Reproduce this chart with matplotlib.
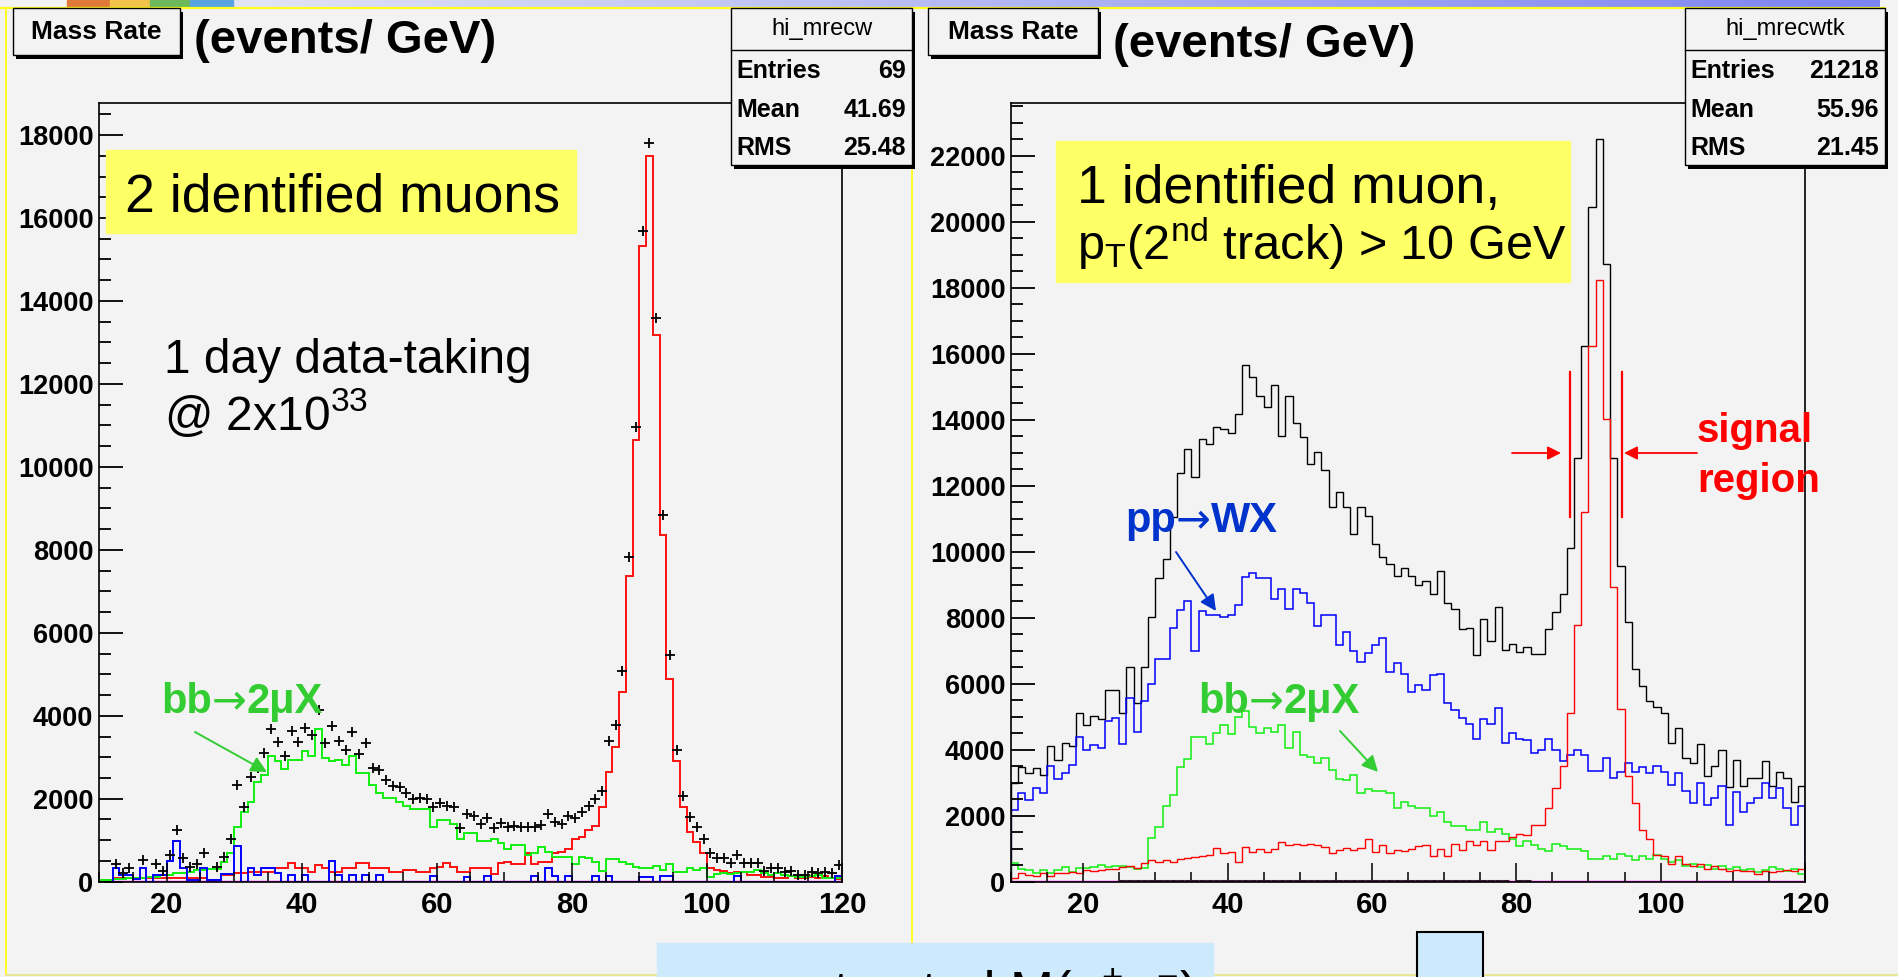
import numpy as np
import matplotlib
matplotlib.use("Agg")
import matplotlib.pyplot as plt
from matplotlib.patches import Rectangle, FancyArrowPatch
from matplotlib.colors import LinearSegmentedColormap
from matplotlib.ticker import MultipleLocator

W, H = 1899, 977
BG = "#f3f3f3"
SANS = ["Liberation Sans", "DejaVu Sans"]

plt.rcParams["font.family"] = SANS
plt.rcParams["mathtext.fontset"] = "custom"
plt.rcParams["mathtext.rm"] = "Liberation Sans"
plt.rcParams["mathtext.it"] = "Liberation Sans:italic"
plt.rcParams["mathtext.bf"] = "Liberation Sans:bold"

# ---- histogram contents, 1 GeV bins from 10 to 120 GeV ----
# left: 2 identified muons (hi_mrecw)
data_l = [None, None, 427, 200, 320, None, 523, None, 427, 258,      # 10-19
          644, 1240, 564, 362, 427, 700, None, 362, 604, 1030,       # 20-29
          2334, 1811, 2536, 2737, 3100, 3679, 3357, 3035, 3622, 3357,
          3695, 3542, 4130, 3341, 3743, 3397, 3180, 3598, 3075, 3341,
          2737, 2697, 2455, 2310, 2294, 2133, 1988, 2013, 1988, 1811,
          1892, 1835, 1811, 1288, 1640, 1590, 1393, 1546, 1288, 1425,
          1312, 1344, 1328, 1328, 1328, 1368, 1634, 1433, 1393, 1586,
          1530, 1690, 1835, 1988, 2198, 3381, 3784, 5088, 7835, 10966,
          15676, 17819, 13584, 8833, 5475, 3180, 2077, 1570, 1312, 1030,
          700, 564, 564, 443, 644, 459, 443, 443, 258, 322,
          322, 241, 258, 161, 161, 225, 201, 225, 201, 402]            # 110-119

zmumu_l = [40, 40, 80, 80, 80, 100, 100, 100, 80, 80,
           80, 80, 100, 100, 100, 100, 40, 40, 160, 160,
           200, 200, 240, 240, 240, 240, 322, 322, 443, 322,
           322, 240, 400, 322, 240, 240, 322, 322, 443, 443,
           340, 340, 340, 240, 240, 280, 280, 240, 240, 322,
           360, 443, 360, 240, 225, 322, 322, 322, 177, 443,
           483, 427, 427, 684, 427, 483, 483, 684, 724, 780,
           1030, 1087, 1248, 1344, 1811, 2640, 3240, 4580, 7370, 10645,
           15314, 17488, 13181, 8350, 4886, 2898, 1795, 1191, 966, 684,
           322, 280, 258, 200, 225, 225, 160, 160, 120, 120,
           100, 100, 140, 80, 100, 120, 100, 140, 80, 60]

bb_l = [40, 40, 60, 60, 80, 100, 100, 120, 120, 160,
        160, 200, 200, 240, 280, 280, 300, 300, 483, 684,
        1310, 1690, 1930, 2415, 2576, 3035, 2898, 2713, 2938, 2938,
        3140, 3019, 3679, 2979, 2898, 2938, 2817, 3035, 2616, 2616,
        2334, 2133, 2028, 2028, 1932, 1827, 1747, 1747, 1747, 1330,
        1490, 1490, 1393, 1030, 1183, 1183, 982, 982, 1030, 926,
        781, 885, 885, 644, 684, 845, 724, 588, 588, 588,
        427, 604, 564, 483, 258, 539, 539, 483, 419, 362,
        322, 322, 386, 282, 419, 225, 225, 322, 282, 338,
        121, 177, 201, 177, 201, 225, 225, 282, 201, 161,
        201, 161, 137, 105, 105, 137, 161, 97, 81, 80]

wx_l = [0, 0, 338, 161, 161, 60, 338, 0, 161, 161,
        500, 990, 322, 40, 40, 338, 40, 40, 177, 177,
        860, 0, 338, 161, 322, 322, 201, 0, 161, 0,
        161, 0, 0, 0, 500, 161, 0, 161, 0, 161,
        0, 161, 0, 0, 0, 0, 0, 0, 0, 140,
        0, 0, 0, 0, 120, 0, 0, 140, 0, 0,
        0, 0, 0, 0, 140, 0, 338, 140, 0, 140,
        0, 0, 0, 140, 0, 140, 0, 0, 0, 0,
        120, 120, 0, 140, 140, 0, 0, 0, 0, 0,
        0, 0, 0, 0, 140, 0, 0, 0, 0, 0,
        0, 0, 0, 0, 0, 0, 0, 0, 0, 140]

# right: 1 identified muon + track (hi_mrecwtk)
total_r = [3000, 3485, 3303, 3434, 3232, 4111, 3687, 4192, 4111, 5121,
           4747, 5020, 4919, 5808, 5808, 5121, 6494, 5424, 6494, 8009,
           9191, 9767, 11039, 12393, 13100, 12251, 13403, 13261, 13766, 13706,
           13605, 14171, 15660, 15300, 14720, 14390, 15050, 13500, 14720, 13890,
           13480, 12660, 13030, 12470, 11340, 11820, 11340, 10530, 11360, 11080,
           10230, 9850, 9620, 9260, 9500, 9248, 8989, 9095, 8713, 9401,
           8438, 8255, 7644, 7675, 6880, 7950, 7293, 8332, 7033, 7216,
           6956, 7109, 6911, 6911, 7644, 8179, 8713, 10120, 12839, 16231,
           20449, 22496, 18722, 12839, 9554, 7873, 6452, 5933, 5474, 5306,
           5123, 4206, 4664, 3747, 3595, 4160, 3213, 3518, 3977, 2876,
           3702, 2907, 3137, 3137, 3671, 2907, 3335, 3137, 2418, 2907]

wx_r = [2172, 2677, 2475, 2828, 2677, 3505, 3101, 3303, 3535, 4373,
        3990, 4141, 4040, 4878, 4949, 4171, 5555, 4545, 5484, 5989,
        6737, 6737, 7676, 8232, 8514, 7000, 8211, 8080, 8080, 8009,
        8080, 8383, 9242, 9343, 9191, 9191, 8555, 8858, 8252, 8858,
        8737, 8454, 7747, 8080, 8080, 7171, 7575, 7000, 6666, 6919,
        7171, 7373, 6363, 6636, 6300, 5734, 5963, 5810, 6269, 6299,
        5428, 5200, 4970, 4772, 4313, 4924, 4772, 5276, 4206, 4512,
        4313, 4282, 3900, 3977, 4313, 3977, 3671, 3824, 3977, 3824,
        3366, 3366, 3748, 3137, 3335, 3595, 3335, 3488, 3290, 3518,
        3335, 2938, 3290, 2754, 2373, 2984, 2327, 2525, 2907, 1715,
        2724, 2113, 2373, 2525, 2984, 2525, 2831, 2220, 1715, 2296]

bb_r = [556, 374, 354, 273, 354, 253, 354, 434, 303, 404,
        404, 455, 505, 455, 480, 475, 434, 374, 400, 1313,
        1667, 2293, 2626, 3464, 3707, 4373, 4373, 4171, 4495, 4747,
        4474, 5000, 5181, 4697, 4495, 4646, 4545, 4747, 4040, 4545,
        3838, 3767, 3606, 3737, 3384, 3101, 3080, 3232, 2677, 2798,
        2757, 2757, 2677, 2222, 2424, 2300, 2219, 2219, 1990, 2112,
        1807, 1685, 1685, 1563, 1563, 1807, 1501, 1608, 1455, 1303,
        1074, 1226, 1104, 997, 921, 1150, 1074, 997, 997, 921,
        691, 691, 768, 691, 844, 768, 646, 768, 691, 799,
        691, 585, 646, 462, 539, 432, 493, 386, 462, 386,
        432, 340, 386, 280, 340, 432, 386, 310, 386, 233]

zmumu_r = [101, 273, 202, 172, 253, 172, 273, 253, 303, 273,
           354, 333, 354, 374, 374, 434, 475, 404, 576, 657,
           606, 657, 606, 677, 707, 758, 778, 808, 1010, 879,
           909, 606, 1061, 909, 980, 909, 980, 1212, 1111, 1141,
           1111, 1141, 1111, 1061, 879, 960, 1010, 960, 1010, 1283,
           909, 1111, 859, 960, 921, 997, 1074, 1104, 768, 997,
           768, 1150, 952, 1226, 1104, 1226, 952, 1226, 1226, 1349,
           1456, 1410, 1716, 1716, 2220, 2831, 3518, 5123, 7766, 11189,
           16231, 18218, 14031, 8943, 5230, 3213, 2373, 1563, 1303, 799,
           768, 539, 768, 539, 462, 539, 386, 462, 386, 310,
           340, 310, 310, 233, 310, 280, 310, 340, 310, 386]

# nearly empty samples lying on the axis
empty = [0] * 110
other_r = [0, 0, 0, 0, 0, 0, 0, 0, 0, 0,
           0, 0, 0, 0, 0, 30, 30, 30, 30, 30,
           30, 30, 30, 30, 30, 30, 30, 30, 30, 30,
           30, 30, 30, 30, 30, 30, 30, 30, 30, 30,
           30, 30, 30, 30, 30, 30, 30, 30, 30, 30,
           30, 30, 30, 30, 30, 30, 30, 30, 30, 30,
           30, 30, 30, 30, 30, 30, 30, 30, 30, 0,
           30, 30, 0, 0, 0, 0, 0, 0, 0, 0,
           0, 0, 0, 0, 0, 0, 0, 0, 0, 0,
           0, 0, 0, 0, 0, 0, 0, 0, 0, 0,
           0, 0, 0, 0, 0, 0, 0, 0, 0, 0]

stats_l = [("Entries", "69"), ("Mean", "41.69"), ("RMS", "25.48")]
stats_r = [("Entries", "21218"), ("Mean", "55.96"), ("RMS", "21.45")]

edges = np.arange(10, 121)
centers = edges[:-1] + 0.5


def arr(v):
    return np.array([np.nan if x is None else x for x in v], dtype=float)


fig = plt.figure(figsize=(W / 100, H / 100), dpi=100, facecolor=BG)


def px_axes(x0, y0, x1, y1, **kw):
    return fig.add_axes([x0 / W, 1 - y1 / H, (x1 - x0) / W, (y1 - y0) / H], **kw)


def style_axes(ax, ymax):
    ax.set_facecolor(BG)
    ax.set_xlim(10, 120)
    ax.set_ylim(0, ymax)
    ax.xaxis.set_major_locator(MultipleLocator(20))
    ax.xaxis.set_minor_locator(MultipleLocator(5))
    ax.yaxis.set_major_locator(MultipleLocator(2000))
    ax.yaxis.set_minor_locator(MultipleLocator(500))
    ax.tick_params(axis="x", which="major", direction="in", length=14, width=1.1, pad=7, labelsize=21)
    ax.tick_params(axis="x", which="minor", direction="in", length=7, width=1.1)
    ax.tick_params(axis="y", which="major", direction="in", length=17, width=1.3, pad=4, labelsize=19.5)
    ax.tick_params(axis="y", which="minor", direction="in", length=8.5, width=1.3)
    for s in ax.spines.values():
        s.set_linewidth(1.2)
    for lbl in ax.get_xticklabels() + ax.get_yticklabels():
        lbl.set_fontweight("bold")


ax_l = px_axes(99, 102.7, 842, 881.7)
ax_r = px_axes(1011, 102.7, 1805, 881.7)
style_axes(ax_l, 18780)
style_axes(ax_r, 23600)

# left pad
ax_l.stairs(empty, edges, color="#ff00ff", lw=2.5)
ax_l.plot(centers, arr(data_l), "+", color="black", ms=7, mew=1.3)
ax_l.stairs(zmumu_l, edges, color="#ff1010", lw=1.4)
ax_l.stairs(bb_l, edges, color="#10ee10", lw=1.4)
ax_l.stairs(wx_l, edges, color="#0000ff", lw=1.4)

# right pad
ax_r.stairs(empty, edges, color="#ff00ff", lw=2.5)
m = np.array(other_r) > 0
ax_r.hlines(np.array(other_r)[m], edges[:-1][m], edges[1:][m], color="#3a1838", lw=2.2)
ax_r.stairs(total_r, edges, color="black", lw=1.0)
ax_r.stairs(wx_r, edges, color="#0000ff", lw=1.1)
ax_r.stairs(bb_r, edges, color="#10ee10", lw=1.1)
ax_r.stairs(zmumu_r, edges, color="#ff0000", lw=1.0)

# ---- overlay in pixel coordinates for boxes, labels and decorations ----
ov = fig.add_axes([0, 0, 1, 1], zorder=5)
ov.patch.set_alpha(0)
ov.axis("off")

band = np.linspace(0, 1, 256)[None, :]
ov.imshow(band, extent=(233, 1880, 7, 0), aspect="auto", zorder=0,
          cmap=LinearSegmentedColormap.from_list("band", ["#e2e4f6", "#7c84f2"]))
for x0, x1, c in [(67, 110, "#e07a3a"), (110, 150, "#f2c24a"), (150, 190, "#6cb85a"), (190, 233, "#5aa4e0")]:
    ov.add_patch(Rectangle((x0, 0), x1 - x0, 7, color=c, zorder=0))

# yellow slide frame
ylw = "#ffff20"
ov.plot([0, 1885], [7.5, 7.5], color=ylw, lw=1.6, zorder=1)
ov.plot([6, 6], [8, 975], color=ylw, lw=1.4, zorder=1)
ov.plot([912, 912], [8, 943], color=ylw, lw=1.4, zorder=1)
ov.plot([6, W], [975, 975], color="#e8e890", lw=1.4, zorder=1)


def shadow_box(x0, y0, x1, y1):
    ov.add_patch(Rectangle((x0 + 3.5, y0 + 3.5), x1 - x0, y1 - y0, facecolor="black", zorder=2))
    ov.add_patch(Rectangle((x0, y0), x1 - x0, y1 - y0, facecolor=BG, edgecolor="black", lw=1.0, zorder=3))


def stats_box(x0, x1, title, rows):
    shadow_box(x0, 8, x1, 165)
    ov.plot([x0, x1], [50, 50], color="black", lw=1.0, zorder=4)
    ov.text((x0 + x1) / 2, 29, title, ha="center", va="center", fontsize=17, zorder=4)
    for (name, value), y in zip(rows, (71, 110, 148)):
        ov.text(x0 + 5, y, name, ha="left", va="center", fontsize=18, fontweight="bold", zorder=4)
        ov.text(x1 - 6, y, value, ha="right", va="center", fontsize=18, fontweight="bold", zorder=4)


for x0, x1, tx, base in [(13, 180, 194, 53), (928, 1098, 1113, 57)]:
    shadow_box(x0, 8, x1, 55)
    ov.text((x0 + x1) / 2, 32, "Mass Rate", ha="center", va="center", fontsize=19,
            fontweight="bold", zorder=4)
    ov.text(tx, base, "(events/ GeV)", ha="left", va="baseline",
            fontsize=34, fontweight="bold", zorder=4)

stats_box(731, 912, "hi_mrecw", stats_l)
stats_box(1685, 1885, "hi_mrecwtk", stats_r)

yellow = "#ffff66"
ov.add_patch(Rectangle((106, 150), 470, 83, color=yellow, zorder=2))
ov.text(125, 212, "2 identified muons", fontsize=38.5, zorder=4)
ov.add_patch(Rectangle((1056, 141), 514, 141, color=yellow, zorder=2))
ov.text(1077, 203, "1 identified muon,", fontsize=38.5, zorder=4)
ov.text(1077, 260, r"p$_\mathregular{T}$(2$^\mathregular{nd}$ track) > 10 GeV", fontsize=35, zorder=4)

ov.text(164, 373, "1 day data-taking", fontsize=34.5, zorder=4)
ov.text(164, 430, r"@ 2x10$^\mathregular{33}$", fontsize=34.5, zorder=4)

green = "#33cc33"
blue = "#0033cc"
red = "#ff0000"


def process_label(x, y, left, right, color):
    """Bold label of the form 'a -> b' with a long DejaVu arrow between the parts."""
    t1 = ov.text(x, y, left, color=color, fontsize=30, fontweight="bold", zorder=4)
    t2 = ov.annotate("\u2192", xy=(1, 0), xycoords=t1, va="bottom", ha="left", color=color,
                     fontsize=30, family="DejaVu Sans", zorder=4)
    ov.annotate(right, xy=(1, 0), xycoords=t2, va="bottom", ha="left", color=color,
                fontsize=30, fontweight="bold", zorder=4)


process_label(161, 713, "bb", "2\u03bcX", green)
process_label(1198, 713, "bb", "2\u03bcX", green)
process_label(1125, 532, "pp", "WX", blue)


def arrow(p0, p1, color, scale=24, lw=1.4):
    ov.add_patch(FancyArrowPatch(p0, p1, arrowstyle="-|>", mutation_scale=scale,
                                 color=color, lw=lw, shrinkA=0, shrinkB=0, zorder=4))


arrow((195, 732), (267, 772), green)
arrow((1340, 731), (1378, 772), green)
arrow((1176, 552), (1216, 611), blue)

# signal window
ov.plot([1570, 1570], [372, 517], color=red, lw=1.6, zorder=4)
ov.plot([1622, 1622], [372, 517], color=red, lw=1.6, zorder=4)
arrow((1512, 453), (1561, 453), red, scale=20, lw=1.3)
arrow((1697, 453), (1624, 453), red, scale=20, lw=1.3)
ov.text(1697, 442, "signal", color=red, fontsize=29, fontweight="bold", zorder=4)
ov.text(1697, 492, "region", color=red, fontsize=29, fontweight="bold", zorder=4)

# caption boxes at the bottom edge
ov.add_patch(Rectangle((657, 943), 556, 40, color="#cdeafd", zorder=2))
ov.add_patch(Rectangle((1417, 932), 66, 60, facecolor="#cdeafd", edgecolor="black", lw=1.5, zorder=2))
ov.text(675, 1010, r"reconstructed M($\mu^\mathregular{+}\mu^\mathregular{-}$)", fontsize=38, zorder=4)

ov.set_xlim(0, W)
ov.set_ylim(H, 0)

fig.savefig("out.png", dpi=100, facecolor=BG)
